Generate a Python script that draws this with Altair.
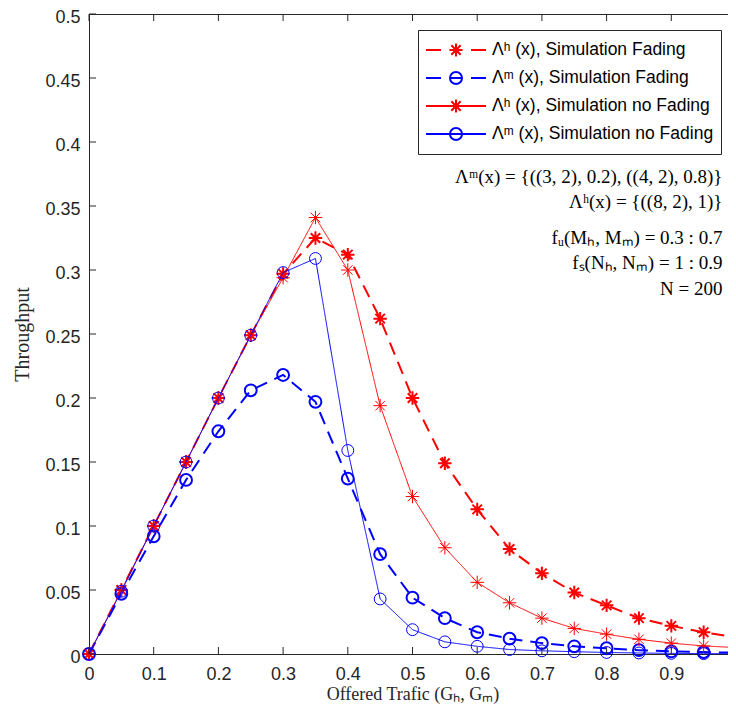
import altair as alt
import pandas as pd

# ---------------- data ----------------
X = [0.0, 0.05, 0.1, 0.15, 0.2, 0.25, 0.3, 0.35, 0.4, 0.45, 0.5,
     0.55, 0.6, 0.65, 0.7, 0.75, 0.8, 0.85, 0.9, 0.95, 1.0]

H_FADING = [0.0, 0.05, 0.1, 0.15, 0.2, 0.249, 0.297, 0.325, 0.312, 0.262, 0.200,
            0.149, 0.113, 0.082, 0.063, 0.048, 0.038, 0.028, 0.022, 0.017, 0.013]
M_FADING = [0.0, 0.047, 0.092, 0.136, 0.174, 0.206, 0.218, 0.197, 0.137, 0.078, 0.044,
            0.028, 0.017, 0.012, 0.0085, 0.006, 0.0045, 0.003, 0.002, 0.0015, 0.001]
H_NOFADE = [0.0, 0.05, 0.1, 0.15, 0.2, 0.249, 0.294, 0.341, 0.300, 0.194, 0.123,
            0.083, 0.056, 0.040, 0.028, 0.020, 0.0155, 0.0115, 0.0085, 0.0063, 0.005]
M_NOFADE = [0.0, 0.049, 0.1, 0.15, 0.2, 0.249, 0.298, 0.309, 0.159, 0.043, 0.019,
            0.0095, 0.006, 0.0035, 0.0025, 0.0018, 0.0012, 0.0008, 0.0005, 0.0003, 0.0002]

SERIES = ["Λʰ (x), Simulation Fading", "Λᵐ (x), Simulation Fading",
          "Λʰ (x), Simulation no Fading", "Λᵐ (x), Simulation no Fading"]
MARKERS = ["star", "circle", "star", "circle"]
COLORS = ["#ff0000", "#0000ff", "#ff0000", "#0000ff"]
LINE_WIDTHS = [2, 2, 1, 1]
DASHES = [[13, 8], [13, 8], [1, 0], [1, 0]]

X_TICKS = [0.0, 0.1, 0.2, 0.3, 0.4, 0.5, 0.6, 0.7, 0.8, 0.9, 1.0]
Y_TICKS = [0.0, 0.05, 0.1, 0.15, 0.2, 0.25, 0.3, 0.35, 0.4, 0.45, 0.5]

ANNOT_TEXT = ["Λᵐ(x) = {((3, 2), 0.2), ((4, 2), 0.8)}",
              "Λʰ(x) = {((8, 2), 1)}",
              "fᵤ(Mₕ, Mₘ) = 0.3 : 0.7",
              "fₛ(Nₕ, Nₘ) = 1 : 0.9",
              "N = 200"]
ANNOT_X = [0.979, 0.979, 0.979, 0.979, 0.979]
ANNOT_Y = [0.373, 0.353, 0.325, 0.3055, 0.285]

# ---------------- style ----------------
W, H = 647, 640
AX = "#262626"
TICK = 7


def star(s):
    d = round(s * 0.707, 3)
    return (f"M0,-{s}L0,{s}M-{s},0L{s},0"
            f"M-{d},-{d}L{d},{d}M-{d},{d}L{d},-{d}")


def circ(r):
    return f"M{r},0A{r},{r} 0 1,1 -{r},0A{r},{r} 0 1,1 {r},0Z"


DASHED = "M-1,0L-0.5,0M-0.17,0L0.17,0M0.5,0L1,0"
SOLID = "M-1,0L1,0"
LEGEND_SHAPES = [DASHED + star(0.22), DASHED + circ(0.2),
                 SOLID + star(0.22), SOLID + circ(0.2)]
STAR = star(1)

rows = []
for name, vals, mk in zip(SERIES, [H_FADING, M_FADING, H_NOFADE, M_NOFADE], MARKERS):
    for xv, yv in zip(X, vals):
        rows.append({"x": xv, "y": yv, "series": name, "marker": mk})
df = pd.DataFrame(rows)

xscale = alt.Scale(domain=[0, 1], nice=False, zero=False)
yscale = alt.Scale(domain=[0, 0.5], nice=False)

x_axis = alt.Axis(values=X_TICKS, format=".2~f", title="Offered Trafic (Gₕ, Gₘ)",
                  labelFont="Liberation Sans", labelFontSize=18, labelColor=AX,
                  labelPadding=11, ticks=False, tickSize=0, domain=False, grid=False,
                  labelFlush=False, labelOverlap=False,
                  titleFont="Liberation Serif", titleFontSize=18, titleFontWeight="normal",
                  titleColor=AX, titlePadding=2)
y_axis = alt.Axis(values=Y_TICKS, format=".2~f", title="Throughput",
                  labelFont="Liberation Sans", labelFontSize=18, labelColor=AX,
                  labelPadding=9, labelOffset=3, ticks=False, tickSize=0, domain=False,
                  grid=False, labelFlush=False, labelOverlap=False,
                  titleFont="Liberation Serif", titleFontSize=20, titleFontWeight="normal",
                  titleColor=AX, titlePadding=12)

X_ENC = alt.X("x:Q", scale=xscale, axis=x_axis)
Y_ENC = alt.Y("y:Q", scale=yscale, axis=y_axis)

base = alt.Chart(df)

layers = []
for name, color, lw, dash, mk in zip(SERIES, COLORS, LINE_WIDTHS, DASHES, MARKERS):
    d = base.transform_filter(alt.datum.series == name)
    layers.append(d.mark_line(color=color, strokeWidth=lw, strokeDash=dash)
                  .encode(x=X_ENC, y=Y_ENC))
    if mk == "star":
        pt = d.mark_point(shape=STAR, filled=False, color=color, strokeWidth=lw,
                          size=180, opacity=1)
    else:
        pt = d.mark_point(shape="circle", filled=False, color=color, strokeWidth=lw,
                          size=140, opacity=1)
    layers.append(pt.encode(x=X_ENC, y=Y_ENC))

legend_def = alt.Legend(orient="none", legendX=329, legendY=16)
legend_layer = base.mark_point(filled=False, size=3600, opacity=0).encode(
    x=X_ENC, y=Y_ENC,
    color=alt.Color("series:N", scale=alt.Scale(domain=SERIES, range=COLORS),
                    title=None, legend=legend_def),
    shape=alt.Shape("series:N", scale=alt.Scale(domain=SERIES, range=LEGEND_SHAPES),
                    title=None, legend=legend_def),
    strokeWidth=alt.StrokeWidth("series:N", scale=alt.Scale(domain=SERIES, range=LINE_WIDTHS),
                                title=None, legend=legend_def),
)
layers.append(legend_layer)

tx = pd.DataFrame({"x": X_TICKS})
ty = pd.DataFrame({"y": Y_TICKS})

layers += [
    alt.Chart(tx).mark_rule(color=AX, strokeWidth=1).encode(
        x=X_ENC, y=alt.value(H), y2=alt.value(H - TICK)),
    alt.Chart(tx).mark_rule(color=AX, strokeWidth=1).encode(
        x=X_ENC, y=alt.value(0), y2=alt.value(TICK)),
    alt.Chart(ty).mark_rule(color=AX, strokeWidth=1).encode(
        y=Y_ENC, x=alt.value(0), x2=alt.value(TICK)),
    alt.Chart(ty).mark_rule(color=AX, strokeWidth=1).encode(
        y=Y_ENC, x=alt.value(W), x2=alt.value(W - TICK)),
]

ann = pd.DataFrame({"x": ANNOT_X, "y": ANNOT_Y, "text": ANNOT_TEXT})
layers.append(alt.Chart(ann).mark_text(
    align="right", baseline="middle", font="Liberation Serif", fontSize=19, color="black"
).encode(x=X_ENC, y=Y_ENC, text="text:N"))

chart = alt.layer(*layers).properties(
    width=W, height=H,
    autosize=alt.AutoSizeParams(type="none"),
    padding={"left": 81, "top": 6, "right": -8, "bottom": 50},
).configure_view(
    stroke=AX, strokeWidth=1
).configure_legend(
    padding=7, strokeColor=AX, fillColor="white", cornerRadius=0,
    labelFont="Liberation Sans", labelFontSize=17.5, labelColor="black", labelLimit=600,
    symbolSize=3600, clipHeight=26, rowPadding=2, labelOffset=5, symbolOpacity=1,
    symbolFillColor="transparent"
)

chart.save("out.html", embed_options={"renderer": "svg", "actions": False})
